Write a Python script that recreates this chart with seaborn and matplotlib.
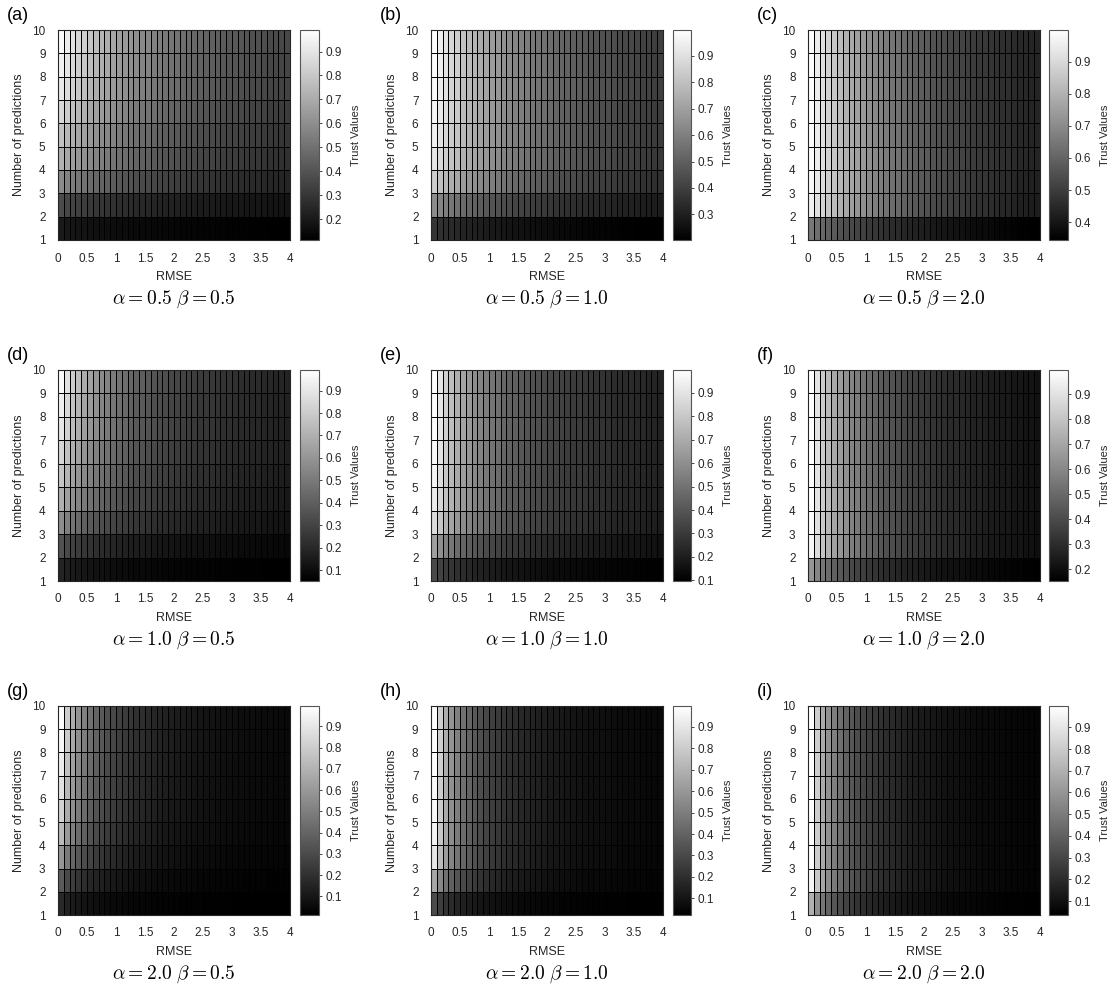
import numpy as np
import pandas as pd
import seaborn as sns
import matplotlib.pyplot as plt

# RMSE grid (cell left edges) and number of predictions (cell bottom edges)
rmse = [0.0, 0.1, 0.2, 0.3, 0.4, 0.5, 0.6, 0.7, 0.8, 0.9,
        1.0, 1.1, 1.2, 1.3, 1.4, 1.5, 1.6, 1.7, 1.8, 1.9,
        2.0, 2.1, 2.2, 2.3, 2.4, 2.5, 2.6, 2.7, 2.8, 2.9,
        3.0, 3.1, 3.2, 3.3, 3.4, 3.5, 3.6, 3.7, 3.8, 3.9]
n_pred = [1, 2, 3, 4, 5, 6, 7, 8, 9]

alphas = ["0.5", "1.0", "2.0"]
betas = ["0.5", "1.0", "2.0"]
panel_tags = ["(a)", "(b)", "(c)", "(d)", "(e)", "(f)", "(g)", "(h)", "(i)"]

# relative fall-off of trust along RMSE (read from the top rows), one per alpha
falloff_a05 = [1.00, .95, .91, .87, .84, .80, .77, .75, .72, .70,
               .67, .65, .63, .61, .59, .58, .56, .55, .53, .52,
               .51, .49, .48, .47, .46, .45, .44, .43, .42, .41,
               .41, .40, .39, .38, .38, .37, .36, .36, .35, .35]
falloff_a10 = [1.00, .91, .83, .77, .71, .67, .63, .59, .56, .53,
               .50, .48, .45, .43, .42, .40, .38, .37, .36, .34,
               .33, .32, .31, .30, .29, .29, .28, .27, .26, .26,
               .25, .24, .24, .23, .23, .22, .22, .21, .21, .20]
falloff_a20 = [1.00, .82, .69, .59, .52, .46, .41, .37, .33, .30,
               .27, .25, .23, .21, .20, .18, .17, .16, .15, .14,
               .13, .125, .12, .11, .105, .10, .095, .09, .087, .084,
               .08, .077, .074, .071, .068, .066, .064, .062, .06, .058]

# trust per number of predictions at RMSE = 0 (first column), panels a..i
trust_rmse0 = [
    [.20, .37, .59, .72, .78, .85, .91, .94, .97],
    [.37, .64, .84, .92, .95, .97, .98, .99, .99],
    [.65, .96, .98, .99, .99, .99, .99, .99, .99],
    [.18, .35, .57, .70, .78, .84, .90, .93, .97],
    [.36, .66, .87, .93, .96, .98, .99, .99, .99],
    [.65, .96, .98, .99, .99, .99, .99, .99, .99],
    [.17, .36, .59, .73, .82, .88, .92, .96, .98],
    [.31, .66, .90, .95, .97, .98, .99, .99, .99],
    [.70, .96, .98, .99, .99, .99, .99, .99, .99],
]
# trust per number of predictions at RMSE = 3.9 (last column), panels a..i
trust_rmse39 = [
    [.115, .18, .24, .28, .30, .32, .34, .35, .36],
    [.20, .29, .35, .38, .39, .39, .40, .40, .40],
    [.345, .42, .43, .44, .44, .44, .44, .44, .44],
    [.05, .08, .12, .14, .155, .165, .17, .175, .18],
    [.10, .155, .195, .21, .215, .215, .22, .22, .22],
    [.153, .20, .205, .21, .21, .21, .21, .21, .21],
    [.013, .022, .032, .040, .044, .047, .049, .050, .051],
    [.022, .038, .047, .051, .053, .054, .055, .055, .055],
    [.036, .052, .054, .055, .055, .055, .055, .055, .055],
]
# colour bar limits
cbar_lims = [(.113, .99), (.203, .998), (.345, .998),
             (.051, .992), (.097, .998), (.153, .996),
             (.013, .995), (.022, .998), (.036, .998)]

falloffs = [falloff_a05, falloff_a10, falloff_a20]


def panel_table(k):
    """Each row follows the RMSE fall-off of its alpha, between its read end values."""
    shape = np.array(falloffs[k // 3])
    w = (shape - shape[-1]) / (shape[0] - shape[-1])
    hi = np.array(trust_rmse0[k])[:, None]
    lo = np.array(trust_rmse39[k])[:, None]
    return pd.DataFrame(lo + (hi - lo) * w[None, :], index=n_pred, columns=rmse)


sns.set_theme(style="white")
plt.rcParams["font.family"] = ["Liberation Sans", "DejaVu Sans"]
plt.rcParams["mathtext.fontset"] = "cm"

W, H = 1112, 994
fig = plt.figure(figsize=(W / 100, H / 100), dpi=100)

# pixel layout: axes x0, x1, colorbar x0, x1 per column; y0, y1 per row
col_px = [(58, 290, 300, 319), (431, 663, 673, 691), (808, 1040, 1049, 1068)]
row_px = [(30, 240), (370, 581), (706, 915)]
ink = "#262626"


def box(x0, y0, x1, y1):
    return [x0 / W, 1 - y1 / H, (x1 - x0) / W, (y1 - y0) / H]


for k in range(9):
    r, c = divmod(k, 3)
    ax0, ax1, cx0, cx1 = col_px[c]
    y0, y1 = row_px[r]
    ax = fig.add_axes(box(ax0, y0, ax1, y1))
    cax = fig.add_axes(box(cx0, y0, cx1, y1))
    vmin, vmax = cbar_lims[k]

    sns.heatmap(panel_table(k), ax=ax, cbar_ax=cax, cmap="gray",
                vmin=vmin, vmax=vmax, linewidths=0.6, linecolor="black",
                xticklabels=False, yticklabels=False)
    ax.invert_yaxis()

    ax.set_xticks(np.arange(0, 41, 5))
    ax.set_xticklabels(["0", "0.5", "1", "1.5", "2", "2.5", "3", "3.5", "4"],
                       rotation=0)
    ax.set_yticks(np.arange(0, 10))
    ax.set_yticklabels([str(i) for i in range(1, 11)], rotation=0)
    ax.tick_params(labelsize=8.5, colors=ink, pad=3)
    ax.set_xlabel("")
    ax.set_ylabel("")
    for sp in ax.spines.values():
        sp.set_visible(True)
        sp.set_color(ink)
        sp.set_linewidth(0.8)

    cbar = ax.collections[0].colorbar
    cbar.set_ticks([t for t in np.arange(0.1, 1.0, 0.1) if vmin <= t + 1e-9 <= vmax])
    cbar.ax.yaxis.set_major_formatter(plt.FormatStrFormatter("%.1f"))
    cbar.ax.tick_params(labelsize=8.5, colors=ink, length=2.5, width=0.6,
                        direction="out", right=True, pad=2)
    cbar.outline.set_edgecolor("#555555")
    cbar.outline.set_linewidth(0.8)
    cbar.set_label("Trust Values", fontsize=8, color=ink, labelpad=7)

    xc = (ax0 + ax1) / 2
    fig.text(xc / W, 1 - (y1 + 37) / H, "RMSE", fontsize=9, color=ink,
             ha="center", va="center")
    fig.text((ax0 - 39) / W, 1 - (y0 + y1) / 2 / H, "Number of predictions",
             fontsize=9, color=ink, rotation=90, ha="center", va="center")
    fig.text((ax0 - 51) / W, 1 - (y0 - 15) / H, panel_tags[k], fontsize=13,
             color="black", ha="left", va="center")
    fig.text(xc / W, 1 - (y1 + 59) / H,
             r"$\alpha = %s\ \beta = %s$" % (alphas[r], betas[c]),
             fontsize=14, color="black", ha="center", va="center")

fig.savefig("out.png", dpi=100)
